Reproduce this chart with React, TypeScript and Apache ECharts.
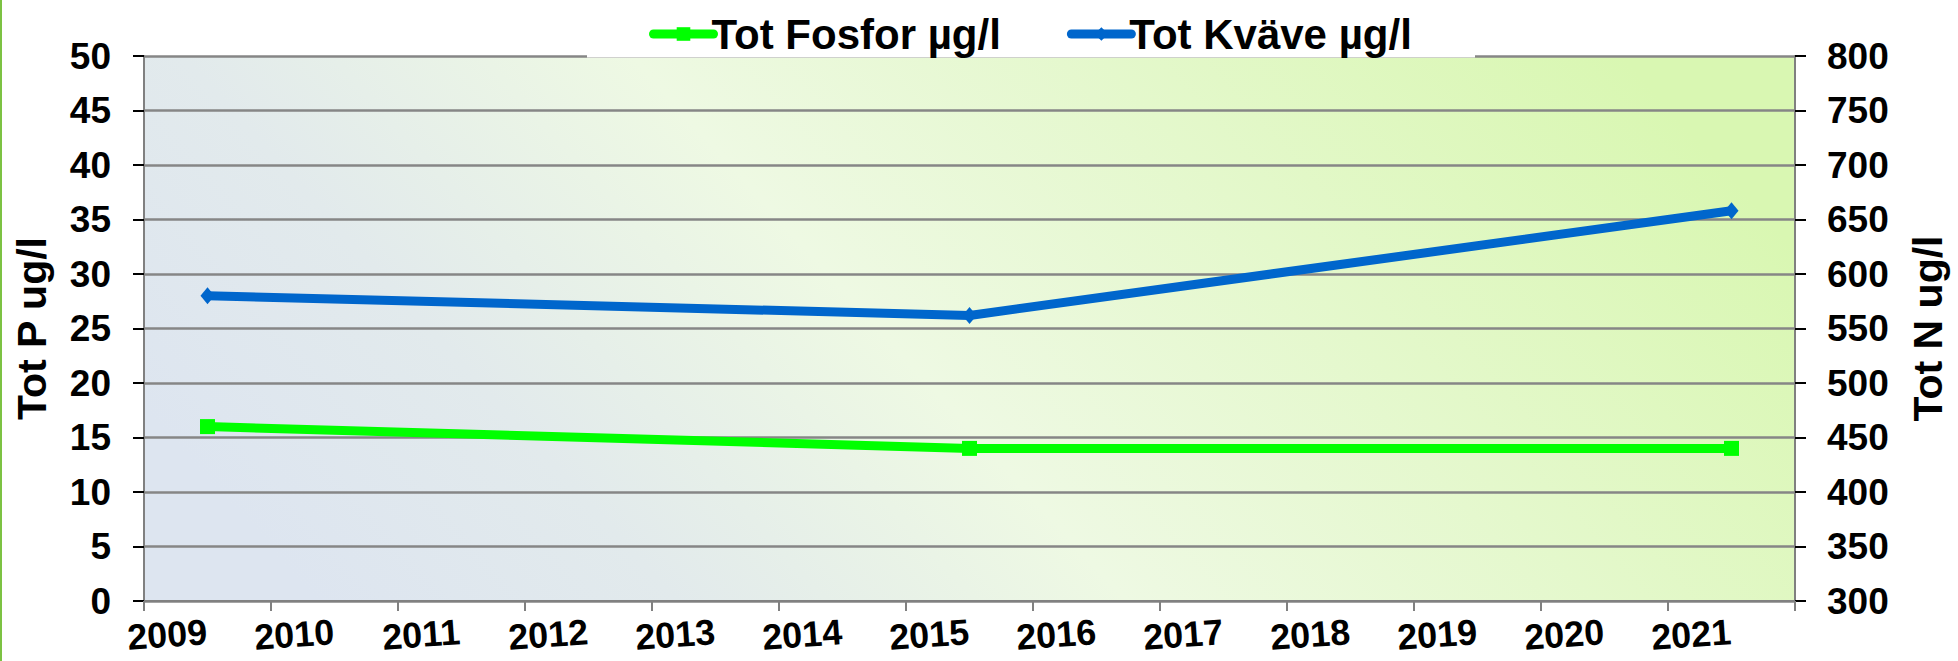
import React, { useEffect, useRef } from "react";
import * as echarts from "echarts";

const sampleYears = [2009.5, 2015.5, 2021.5];
const totFosfor = [16, 14, 14];
const totKvave = [580, 562, 658];
const legendNames = ["Tot Fosfor µg/l", "Tot Kväve µg/l"];
const leftTitle = "Tot P ug/l";
const rightTitle = "Tot N ug/l";
const yearMin = 2009;
const yearMax = 2022;

const FONT = "'Liberation Sans', Arial, sans-serif";

export default function App() {
  const ref = useRef<HTMLDivElement>(null);
  useEffect(() => {
    document.body.style.margin = "0";
    const chart = echarts.init(ref.current!, null, { renderer: "svg" });
    const labelStyle = {
      fontFamily: FONT,
      fontWeight: "bold" as const,
      fontSize: 37,
      color: "#000",
    };
    chart.setOption({
      animation: false,
      backgroundColor: "#fff",
      textStyle: { fontFamily: FONT },
      grid: {
        left: 144,
        right: 163,
        top: 56,
        bottom: 60,
        show: true,
        borderWidth: 0,
        backgroundColor: new echarts.graphic.LinearGradient(0, 0.65, 1, 0.35, [
          { offset: 0, color: "#dde5f0" },
          { offset: 0.2, color: "#e2eaec" },
          { offset: 0.45, color: "#eef9e3" },
          { offset: 1, color: "#d9f7b2" },
        ]),
      },
      legend: {
        data: legendNames,
        left: 644,
        top: 8,
        padding: 5,
        itemWidth: 60,
        itemHeight: 17,
        itemGap: 66,
        z: 10,
        lineStyle: { width: 9, cap: "round" },
        textStyle: { ...labelStyle, fontSize: 42, padding: [0, 0, 0, -7] },
      },
      graphic: [
        {
          type: "rect",
          z: 3,
          shape: { x: 587, y: 0, width: 888, height: 57.6 },
          style: { fill: "#fff" },
        },
        {
          type: "rect",
          z: 3,
          shape: { x: 0, y: 0, width: 2, height: 661 },
          style: { fill: "#7cc243" },
        },
      ],
      xAxis: {
        type: "value",
        min: yearMin,
        max: yearMax,
        interval: 1,
        splitLine: { show: false },
        axisLine: { show: true, lineStyle: { color: "#808080", width: 2 } },
        axisTick: { show: true, length: 10, lineStyle: { color: "#808080", width: 2 } },
        axisLabel: {
          ...labelStyle,
          fontSize: 36,
          margin: 17,
          rotate: 4,
          align: "center",
          verticalAlign: "top",
          padding: [0, 0, 0, 44],
          showMaxLabel: true,
          formatter: (v: number) => (v >= yearMax ? "" : String(v)),
        },
      },
      yAxis: [
        {
          type: "value",
          position: "left",
          min: 0,
          max: 50,
          interval: 5,
          name: leftTitle,
          nameLocation: "middle",
          nameGap: 92,
          nameRotate: 90,
          nameTextStyle: { ...labelStyle, fontSize: 41 },
          axisLine: { show: true, lineStyle: { color: "#808080", width: 2 } },
          axisTick: { show: true, length: 11, lineStyle: { color: "#000", width: 2 } },
          axisLabel: { ...labelStyle, margin: 33 },
          splitLine: { show: true, lineStyle: { color: "#868686", width: 2.5 } },
        },
        {
          type: "value",
          position: "right",
          min: 300,
          max: 800,
          interval: 50,
          name: rightTitle,
          nameLocation: "middle",
          nameGap: 112,
          nameRotate: 90,
          nameTextStyle: { ...labelStyle, fontSize: 41 },
          axisLine: { show: true, lineStyle: { color: "#808080", width: 2 } },
          axisTick: { show: true, length: 11, lineStyle: { color: "#000", width: 2 } },
          axisLabel: { ...labelStyle, margin: 32 },
          splitLine: { show: false },
        },
      ],
      series: [
        {
          name: legendNames[0],
          type: "line",
          yAxisIndex: 0,
          data: sampleYears.map((x, i) => [x, totFosfor[i]]),
          symbol: "rect",
          symbolSize: 15,
          itemStyle: { color: "#00ff00" },
          lineStyle: { color: "#00ff00", width: 9, cap: "round" },
          z: 3,
        },
        {
          name: legendNames[1],
          type: "line",
          yAxisIndex: 1,
          data: sampleYears.map((x, i) => [x, totKvave[i]]),
          symbol: "diamond",
          symbolSize: [14, 17],
          itemStyle: { color: "#0066cc" },
          lineStyle: { color: "#0066cc", width: 9, cap: "round" },
          z: 4,
        },
      ],
    });
    return () => chart.dispose();
  }, []);
  return <div ref={ref} style={{ width: 1958, height: 661 }} />;
}
